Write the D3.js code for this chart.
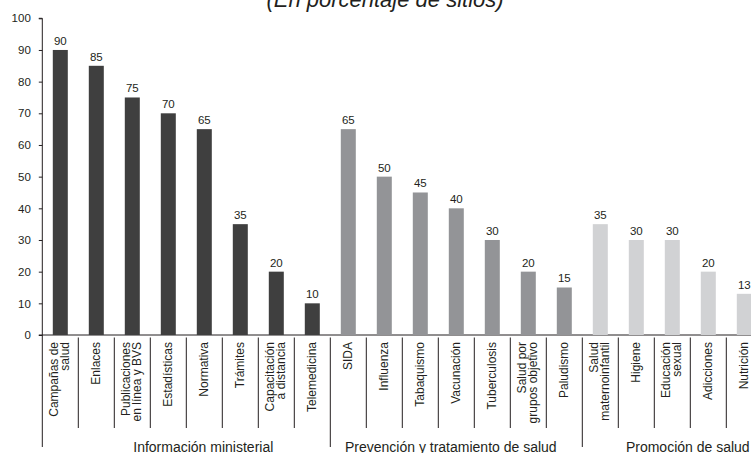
<!DOCTYPE html>
<html>
<head>
<meta charset="utf-8">
<script src="https://cdn.jsdelivr.net/npm/d3@7/dist/d3.min.js"></script>
<style>
  html, body { margin: 0; padding: 0; background: #fff; }
  svg { display: block; font-family: "Liberation Sans", Arial, Helvetica, sans-serif; }
</style>
</head>
<body>
<svg id="chart" width="751" height="453"></svg>
<script>
const title = "(En porcentaje de sitios)";
const groupNames = ["Información ministerial", "Prevención y tratamiento de salud", "Promoción de salud"];
const catsInfo = ["Campañas de\nsalud", "Enlaces", "Publicaciones\nen línea y BVS", "Estadísticas", "Normativa", "Trámites", "Capacitación\na distancia", "Telemedicina"];
const valsInfo = [90, 85, 75, 70, 65, 35, 20, 10];
const catsPrev = ["SIDA", "Influenza", "Tabaquismo", "Vacunación", "Tuberculosis", "Salud por\ngrupos objetivo", "Paludismo"];
const valsPrev = [65, 50, 45, 40, 30, 20, 15];
const catsProm = ["Salud\nmaternoinfantil", "Higiene", "Educación\nsexual", "Adicciones", "Nutrición"];
const valsProm = [35, 30, 30, 20, 13];
const yTicks = [0, 10, 20, 30, 40, 50, 60, 70, 80, 90, 100];

const groupCats = [catsInfo, catsPrev, catsProm];
const groupVals = [valsInfo, valsPrev, valsProm];
const groupColors = ["#3f3f3f", "#939497", "#d1d2d4"];
const ink = "#231f20";

const rows = [];
groupCats.forEach((cats, g) => cats.forEach((c, i) => rows.push({ key: g + "|" + c, label: c, value: groupVals[g][i], group: g })));

const svg = d3.select("#chart");
const x0 = 42.3, x1 = 762.3;
const x = d3.scaleBand().domain(rows.map(d => d.key)).range([x0, x1])
  .paddingInner(21 / 36).paddingOuter(21 / 72);
const y = d3.scaleLinear().domain([0, 100]).range([335, 18.3]);
const step = x.step();

// title
svg.append("text").attr("x", 385).attr("y", 7).attr("text-anchor", "middle")
  .attr("font-size", 22).attr("font-style", "italic").attr("fill", ink).text(title);

// y axis
const yAxis = svg.append("g").attr("transform", `translate(${x0},0)`)
  .call(d3.axisLeft(y).tickValues(yTicks).tickSize(3.5).tickPadding(8).tickFormat(d3.format("d")));
yAxis.select(".domain").attr("stroke", ink).attr("stroke-width", 1).attr("d", `M-3.5,${y(100)}H0V${y(0)}`);
yAxis.selectAll(".tick line").attr("stroke", ink);
yAxis.selectAll(".tick text").attr("font-size", 11.5).attr("fill", ink)
  .attr("font-family", "'Liberation Sans', Arial, sans-serif");

// x axis baseline
svg.append("line").attr("x1", x0 - 3.5).attr("x2", 751).attr("y1", y(0)).attr("y2", y(0))
  .attr("stroke", ink).attr("stroke-width", 1);

// bars
svg.append("g").selectAll("rect").data(rows).join("rect")
  .attr("x", d => x(d.key)).attr("width", x.bandwidth())
  .attr("y", d => y(d.value)).attr("height", d => y(0) - y(d.value))
  .attr("fill", d => groupColors[d.group]);

// value labels
svg.append("g").selectAll("text").data(rows).join("text")
  .attr("x", d => x(d.key) + x.bandwidth() / 2).attr("y", d => y(d.value) - 5)
  .attr("text-anchor", "middle").attr("font-size", 11.5).attr("fill", ink)
  .text(d => d.value);

// separators
const boundaries = new Set();
let acc = 0;
groupCats.forEach(c => { boundaries.add(acc); acc += c.length; });
for (let i = 0; i < rows.length; i++) {
  const sx = x0 + i * step;
  const isGroup = boundaries.has(i);
  svg.append("line").attr("x1", sx).attr("x2", sx)
    .attr("y1", isGroup && i === 0 ? y(0) : 337.5).attr("y2", isGroup ? 447 : 428)
    .attr("stroke", ink).attr("stroke-width", 1);
}

// category labels (rotated)
const lineH = 10.8;
const catG = svg.append("g");
rows.forEach(d => {
  const cx = x(d.key) + x.bandwidth() / 2;
  const lines = d.label.split("\n");
  const n = lines.length;
  lines.forEach((ln, i) => {
    const bx = cx + (i - (n - 1) / 2) * lineH + 3.3;
    catG.append("text")
      .attr("transform", `translate(${bx},342) rotate(-90)`)
      .attr("text-anchor", "end").attr("font-size", 12).attr("fill", ink)
      .text(ln);
  });
});

// group labels
const groupShift = [17, -5.5, 15.5];
acc = 0;
groupCats.forEach((cats, g) => {
  const start = x0 + acc * step, end = x0 + (acc + cats.length) * step;
  acc += cats.length;
  svg.append("text").attr("x", (start + end) / 2 + groupShift[g]).attr("y", 451.5)
    .attr("text-anchor", "middle").attr("font-size", 14).attr("fill", ink)
    .text(groupNames[g]);
});
</script>
</body>
</html>
